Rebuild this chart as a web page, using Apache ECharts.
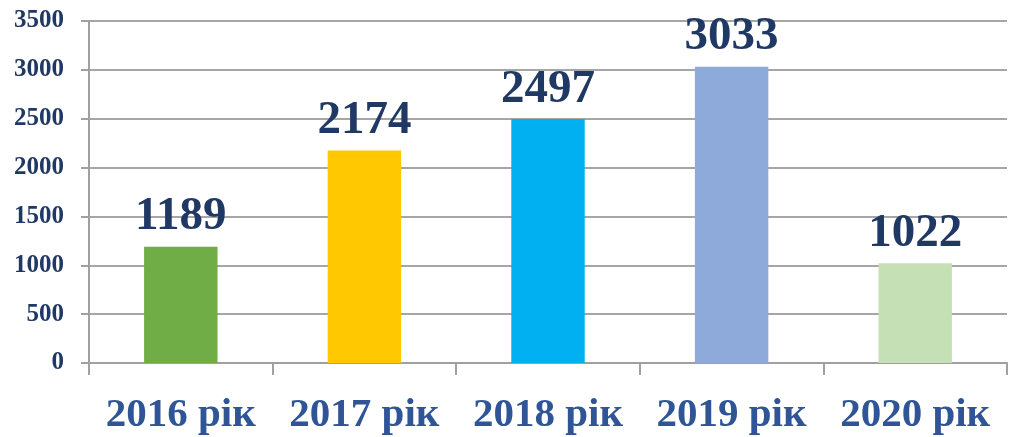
<!DOCTYPE html>
<html>
<head>
<meta charset="utf-8">
<script src="https://cdn.jsdelivr.net/npm/echarts@6/dist/echarts.min.js"></script>
<style>
  html, body { margin: 0; padding: 0; background: #fff; }
  #main { width: 1009px; height: 437px; }
</style>
</head>
<body>
<div id="main"></div>
<script>
var categories = ['2016 рік', '2017 рік', '2018 рік', '2019 рік', '2020 рік'];
var values = [1189, 2174, 2497, 3033, 1022];
var barColors = ['#70ad47', '#ffc800', '#00b0f0', '#8eaadb', '#c5e0b4'];

var serif = '"Liberation Serif", "Times New Roman", serif';
var myChart = echarts.init(document.getElementById('main'));

var option = {
  animation: false,
  grid: { left: 89, right: 2, top: 21, bottom: 74 },
  xAxis: {
    type: 'category',
    data: categories,
    axisLine: { lineStyle: { color: '#a0a0a0', width: 2 } },
    axisTick: { show: true, length: 12, lineStyle: { color: '#a0a0a0', width: 2 } },
    axisLabel: {
      interval: 0,
      margin: 32,
      color: '#2f5597',
      fontFamily: serif,
      fontWeight: 'bold',
      fontSize: 41
    }
  },
  yAxis: {
    type: 'value',
    min: 0,
    max: 3500,
    interval: 500,
    axisLine: { show: true, lineStyle: { color: '#a0a0a0', width: 2 } },
    axisTick: { show: true, length: 8, lineStyle: { color: '#a0a0a0', width: 2 } },
    splitLine: { lineStyle: { color: '#a6a6a6', width: 2 } },
    axisLabel: {
      margin: 25,
      color: '#1f3864',
      fontFamily: serif,
      fontWeight: 'bold',
      fontSize: 25,
      formatter: function (v) { return String(v); }
    }
  },
  series: [{
    type: 'bar',
    barWidth: '40%',
    data: values.map(function (v, i) {
      return { value: v, itemStyle: { color: barColors[i] } };
    }),
    label: {
      show: true,
      position: 'top',
      distance: 6,
      color: '#1f3864',
      fontFamily: serif,
      fontWeight: 'bold',
      fontSize: 47
    }
  }]
};

myChart.setOption(option);
</script>
</body>
</html>
